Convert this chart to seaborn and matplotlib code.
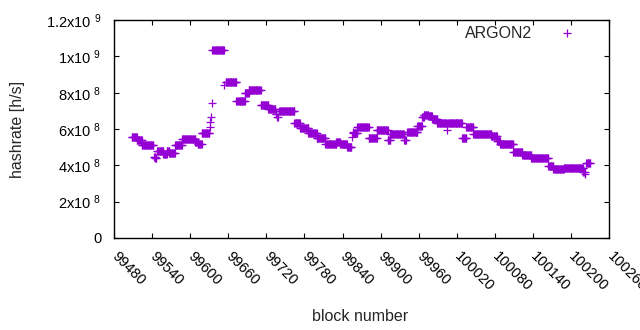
import seaborn as sns
import matplotlib.pyplot as plt
import matplotlib.transforms as mtransforms
import numpy as np
import pandas as pd

# hashrate segments: first block, last block, hashrate [1e8 h/s]
seg_start = [99508, 99516, 99524, 99543, 99545, 99548, 99558, 99563, 99567, 99576,
             99587, 99608, 99612, 99618, 99631, 99632, 99633, 99634, 99635, 99654,
             99656, 99673, 99686, 99692, 99711, 99723, 99735, 99737, 99740, 99764,
             99773, 99786, 99799, 99813, 99830, 99836, 99847, 99855, 99856, 99857,
             99863, 99881, 99894, 99911, 99915, 99937, 99942, 99958, 99965, 99968,
             99975, 99981, 99989, 100004, 100005, 100028, 100035, 100046, 100074, 100083,
             100088, 100109, 100123, 100137, 100164, 100172, 100188, 100219, 100222, 100224]
seg_end = [99516, 99524, 99542, 99545, 99547, 99558, 99563, 99567, 99576, 99587,
           99608, 99612, 99618, 99630, 99631, 99632, 99633, 99634, 99653, 99654,
           99673, 99686, 99692, 99711, 99723, 99734, 99736, 99738, 99764, 99773,
           99786, 99799, 99813, 99830, 99836, 99847, 99854, 99855, 99856, 99863,
           99881, 99894, 99911, 99915, 99936, 99940, 99958, 99965, 99968, 99975,
           99981, 99989, 100003, 100004, 100028, 100035, 100046, 100074, 100083, 100088,
           100109, 100123, 100137, 100164, 100172, 100188, 100219, 100221, 100222, 100230]
seg_value = [5.55, 5.40, 5.10, 4.45, 4.38, 4.80, 4.65, 4.80, 4.70, 5.10,
             5.45, 5.30, 5.15, 5.80, 6.10, 6.37, 6.64, 7.41, 10.33, 8.42,
             8.57, 7.56, 8.00, 8.13, 7.30, 7.10, 6.85, 6.68, 7.00, 6.35,
             6.08, 5.78, 5.48, 5.20, 5.30, 5.15, 5.00, 5.58, 5.85, 5.80,
             6.12, 5.48, 5.95, 5.40, 5.75, 5.39, 5.85, 6.15, 6.65, 6.80,
             6.70, 6.55, 6.35, 5.95, 6.35, 5.50, 6.10, 5.75, 5.60, 5.35,
             5.20, 4.75, 4.55, 4.40, 3.95, 3.80, 3.87, 3.65, 3.50, 4.15]

x_ticks = list(range(99480, 100261, 60))
y_ticks = [0, 2e8, 4e8, 6e8, 8e8, 1e9, 1.2e9]
y_tick_labels = ['0', '2x10 $^{8}$', '4x10 $^{8}$', '6x10 $^{8}$', '8x10 $^{8}$',
                 '1x10 $^{9}$', '1.2x10 $^{9}$']

# one point per block
blocks, rates = [], []
for a, b, v in zip(seg_start, seg_end, seg_value):
    for blk in range(a, b + 1):
        blocks.append(blk)
        rates.append(v * 1e8)
df = pd.DataFrame({'block': blocks, 'hashrate': rates})

sns.set_style('ticks')
plt.rcParams['font.family'] = ['Liberation Sans', 'DejaVu Sans']
plt.rcParams['mathtext.default'] = 'regular'

fig = plt.figure(figsize=(6.4, 3.3), dpi=100)
ax = fig.add_axes([0.178, 0.279, 0.774, 0.660])

sns.scatterplot(data=df, x='block', y='hashrate', marker='+', s=30,
                color='#9400D3', linewidth=0.9, label='ARGON2', ax=ax)

ax.set_xlim(99480, 100260)
ax.set_ylim(0, 1.2e9)
ax.set_xticks(x_ticks)
ax.set_xticklabels([str(t) for t in x_ticks], rotation=-45, ha='left', va='center',
                   rotation_mode='anchor', fontsize=10.5)
shift = mtransforms.ScaledTranslation(2 / 100, 0, fig.dpi_scale_trans)
for lab in ax.get_xticklabels():
    lab.set_transform(lab.get_transform() + shift)
ax.set_yticks(y_ticks)
ax.set_yticklabels(y_tick_labels, fontsize=10.5)
ax.tick_params(direction='in', length=3.5, width=0.8, top=True, right=True, colors='black')
ax.tick_params(axis='x', pad=11.5)
ax.tick_params(axis='y', pad=9)
for sp in ax.spines.values():
    sp.set_visible(True)
    sp.set_color('black')
    sp.set_linewidth(1.0)

ax.set_xlabel('block number', fontsize=11.5)
ax.set_ylabel('hashrate [h/s]', fontsize=11.5)
ax.xaxis.set_label_coords(0.497, -0.325)
ax.yaxis.set_label_coords(-0.18, 0.5)

ax.legend(loc='upper right', bbox_to_anchor=(0.9636, 0.975), frameon=False,
          markerfirst=False, handlelength=3, handletextpad=0.7, borderpad=0,
          borderaxespad=0, fontsize=11.5)

plt.savefig('out.png', dpi=100)
